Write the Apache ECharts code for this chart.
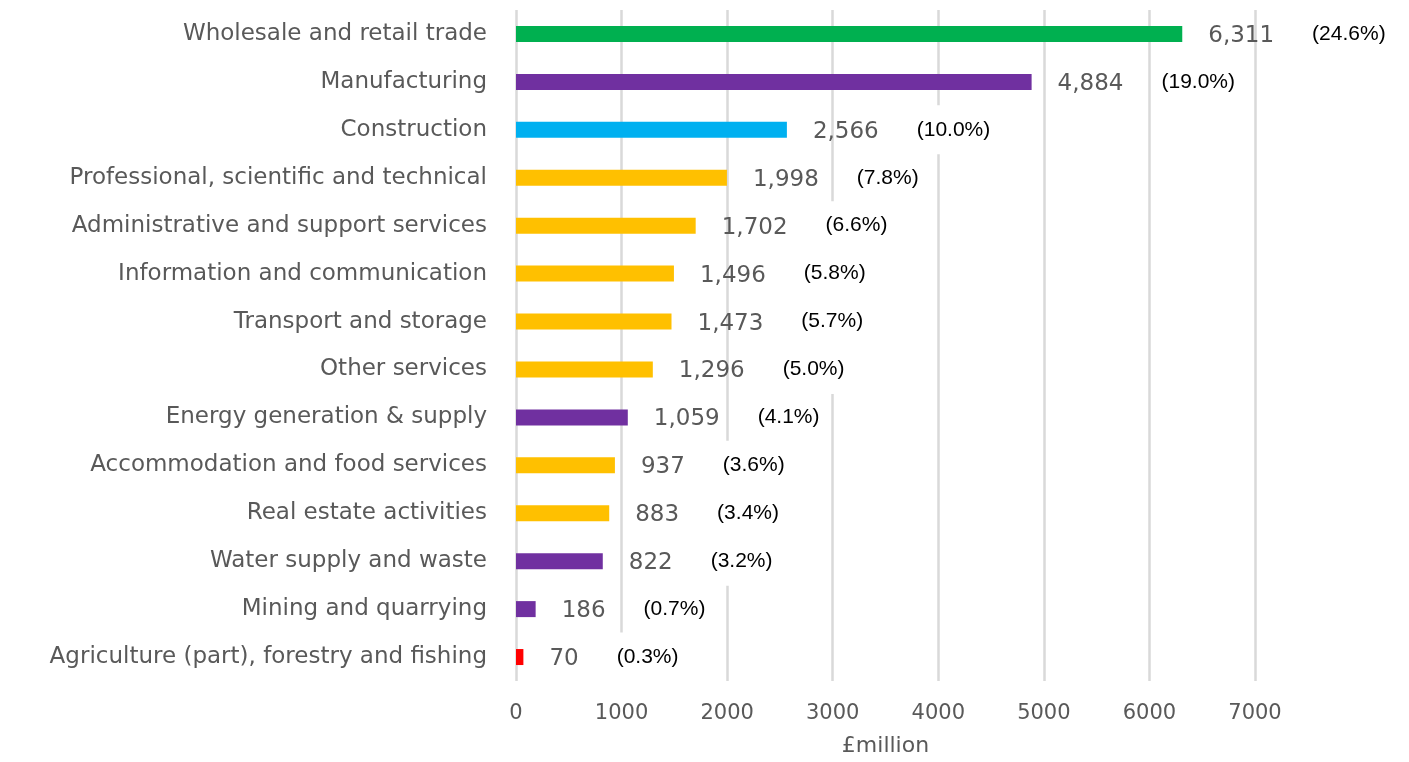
<!DOCTYPE html>
<html>
<head>
<meta charset="utf-8">
<script src="https://cdn.jsdelivr.net/npm/echarts@6/dist/echarts.min.js"></script>
<style>
  html, body { margin: 0; padding: 0; background: #fff; }
  #chart { width: 1409px; height: 762px; }
</style>
</head>
<body>
<div id="chart"></div>
<script>
// Sectors, top to bottom
const sectors = [
  'Wholesale and retail trade',
  'Manufacturing',
  'Construction',
  'Professional, scientific and technical',
  'Administrative and support services',
  'Information and communication',
  'Transport and storage',
  'Other services',
  'Energy generation & supply',
  'Accommodation and food services',
  'Real estate activities',
  'Water supply and waste',
  'Mining and quarrying',
  'Agriculture (part), forestry and fishing'
];
const values = [6311, 4884, 2566, 1998, 1702, 1496, 1473, 1296, 1059, 937, 883, 822, 186, 70];
const shares = ['24.6', '19.0', '10.0', '7.8', '6.6', '5.8', '5.7', '5.0', '4.1', '3.6', '3.4', '3.2', '0.7', '0.3'];
const barColours = ['#00B050', '#7030A0', '#00B0F0', '#FFC000', '#FFC000', '#FFC000', '#FFC000',
  '#FFC000', '#7030A0', '#FFC000', '#FFC000', '#7030A0', '#7030A0', '#FF0000'];
const xTicks = [0, 1000, 2000, 3000, 4000, 5000, 6000, 7000];

const chart = echarts.init(document.getElementById('chart'));

const grey = '#595959';

chart.setOption({
  animation: false,
  backgroundColor: '#fff',
  grid: { left: 516, right: 154, top: 10, bottom: 80 },
  xAxis: {
    type: 'value',
    min: xTicks[0],
    max: xTicks[xTicks.length - 1],
    interval: 1000,
    name: '£million',
    nameLocation: 'middle',
    nameGap: 54,
    nameTextStyle: { color: grey, fontSize: 22, fontFamily: 'DejaVu Sans' },
    axisLine: { show: false },
    axisTick: { show: false },
    axisLabel: { color: grey, fontSize: 21, fontFamily: 'DejaVu Sans', margin: 22, formatter: v => String(v) },
    splitLine: { show: true, lineStyle: { color: '#D9D9D9', width: 2.5 } }
  },
  yAxis: {
    type: 'category',
    inverse: true,
    data: sectors,
    axisLine: { show: false },
    axisTick: { show: false },
    axisLabel: { color: grey, fontSize: 23, fontFamily: 'DejaVu Sans', margin: 29 }
  },
  series: [{
    type: 'bar',
    barWidth: 16,
    data: values.map((v, i) => ({ value: v, itemStyle: { color: barColours[i] } })),
    label: {
      show: true,
      position: 'right',
      distance: 26,
      formatter: p => '{v|' + p.value.toLocaleString('en-GB') + '}{p|(' + shares[p.dataIndex] + '%)}',
      rich: {
        v: { color: grey, fontSize: 23, fontFamily: 'DejaVu Sans', padding: [4, 30, 0, 0] },
        p: { color: '#000', fontSize: 21, fontFamily: 'Liberation Sans', backgroundColor: '#fff', padding: [14, 8, 14, 8] }
      }
    }
  }]
});
</script>
</body>
</html>
